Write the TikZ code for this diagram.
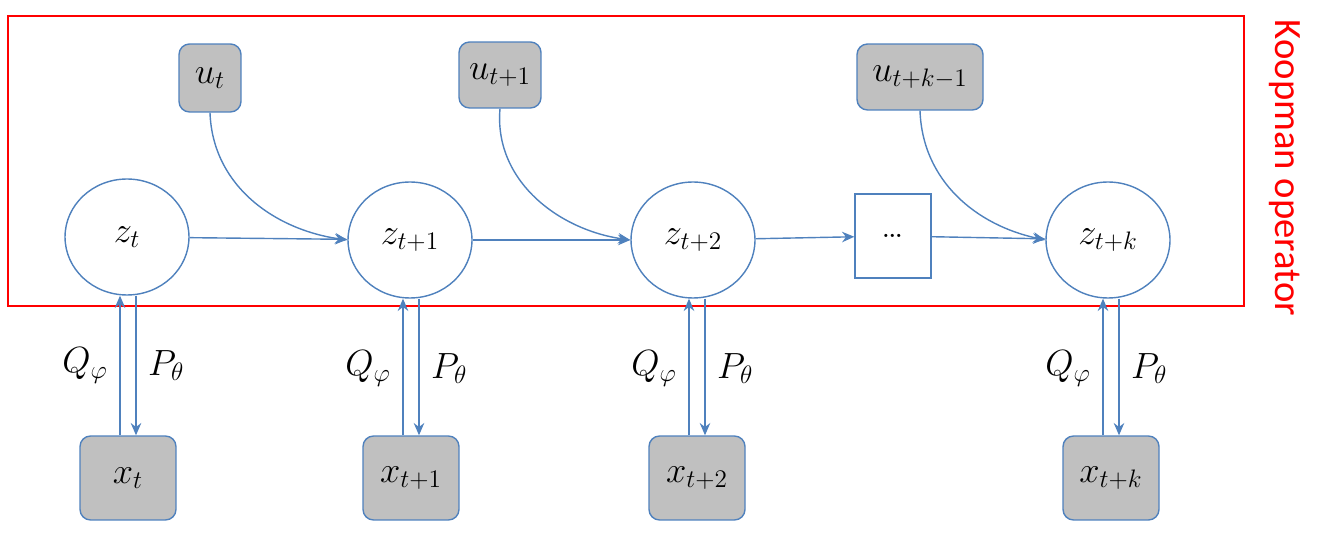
\documentclass[tikz,border=0pt]{standalone}
\usepackage{amsmath}
\usepackage{fontspec}
\newfontfamily\carlito{Carlito}
\usetikzlibrary{arrows.meta, shapes.geometric}
\definecolor{edgeblue}{RGB}{79,129,189}
\definecolor{boxgray}{RGB}{192,192,192}
\tikzset{
  latent/.style={ellipse, draw=edgeblue, thick, fill=white, minimum width=2.48cm, minimum height=2.32cm, inner sep=0pt},
  obs/.style={rectangle, rounded corners=6pt, draw=edgeblue, thick, fill=boxgray, inner sep=0pt},
  link/.style={edgeblue, thick, -{Stealth[length=7pt,width=6pt]}}
}
\begin{document}
\begin{tikzpicture}[x=0.02cm, y=-0.02cm, font=\fontsize{22}{26}\selectfont]
\useasboundingbox (0,0) rectangle (1325,533);
% Koopman frame
\draw[red, thick] (8,16) rectangle (1244,306);
\node[red, rotate=-90, font=\carlito\fontsize{22}{26}\selectfont] (koop) at (1285,168) {Koopman operator};
% latent chain
\node[latent] (zt) at (127,237) {$z_t$};
\node[latent] (zt1) at (410,240) {$z_{t+1}$};
\node[latent] (zt2) at (693,240) {$z_{t+2}$};
\node[rectangle, draw=edgeblue, thick, minimum width=1.52cm, minimum height=1.68cm] (dots) at (893,236) {\dots};
\node[latent] (ztk) at (1108,240) {$z_{t+k}$};
% inputs
\node[obs, minimum width=1.24cm, minimum height=1.36cm] (ut) at (210,78) {$u_t$};
\node[obs, minimum width=1.64cm, minimum height=1.32cm] (ut1) at (500,75) {$u_{t+1}$};
\node[obs, minimum width=2.52cm, minimum height=1.32cm] (utk) at (920,77) {$u_{t+k-1}$};
% observations
\node[obs, minimum width=1.92cm, minimum height=1.68cm] (xt) at (128,478) {$x_t$};
\node[obs, minimum width=1.92cm, minimum height=1.68cm] (xt1) at (411,478) {$x_{t+1}$};
\node[obs, minimum width=1.92cm, minimum height=1.68cm] (xt2) at (697,478) {$x_{t+2}$};
\node[obs, minimum width=1.92cm, minimum height=1.68cm] (xtk) at (1111,478) {$x_{t+k}$};
% transitions
\draw[link] (zt) -- (zt1);
\draw[link] (zt1) -- (zt2);
\draw[link] (zt2) -- (dots);
\draw[link] (dots) -- (ztk);
\draw[link] (ut.south) to[out=-88, in=172] (zt1.west);
\draw[link] (ut1.south) to[out=-95, in=172] (zt2.west);
\draw[link] (utk.south) to[out=-88, in=168] (ztk.west);
% encoder / decoder
\foreach \x/\z in {xt/zt, xt1/zt1, xt2/zt2, xtk/ztk} {
  \draw[link] ([xshift=-8*0.02cm]\x.north) -- ([xshift=-8*0.02cm]\x.north |- \z.south);
  \draw[link] ([xshift=8*0.02cm]\x.north |- \z.south) -- ([xshift=8*0.02cm]\x.north);
  \node[anchor=east] at ([xshift=-14*0.02cm, yshift=-70*0.02cm]\x.north |- \z.south) {$Q_\varphi$};
  \node[anchor=west] at ([xshift=14*0.02cm, yshift=-70*0.02cm]\x.north |- \z.south) {$P_\theta$};
}
\end{tikzpicture}
\end{document}
